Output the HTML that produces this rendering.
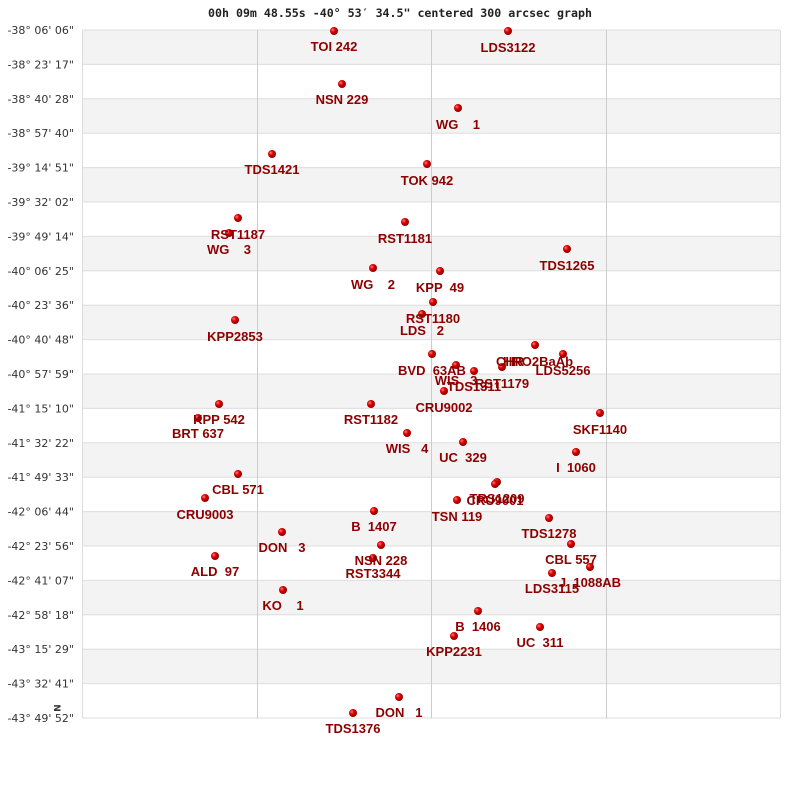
<!DOCTYPE html>
<html><head><meta charset="utf-8"><style>
body{margin:0;background:#fff}
svg text{white-space:pre}
.l{font:bold 13px "Liberation Sans",sans-serif;fill:#8e0000;text-anchor:middle}
.y{font:11px "DejaVu Sans",sans-serif;fill:#333;text-anchor:end}
</style></head><body>
<svg width="800" height="800" xmlns="http://www.w3.org/2000/svg">
<defs><radialGradient id="g" cx="0.35" cy="0.35" r="0.7"><stop offset="0" stop-color="#ff8080"/><stop offset="0.4" stop-color="#e00000"/><stop offset="1" stop-color="#800000"/></radialGradient></defs>
<text x="400" y="17" style="font:bold 11.6px 'DejaVu Sans Mono',monospace;fill:#222" text-anchor="middle">00h 09m 48.55s -40° 53′ 34.5" centered 300 arcsec graph</text>
<g fill="#f3f3f3">
<rect x="82" y="30" width="698" height="34.4"/><rect x="82" y="98.8" width="698" height="34.4"/><rect x="82" y="167.6" width="698" height="34.4"/><rect x="82" y="236.4" width="698" height="34.4"/><rect x="82" y="305.2" width="698" height="34.4"/><rect x="82" y="374" width="698" height="34.4"/><rect x="82" y="442.8" width="698" height="34.4"/><rect x="82" y="511.6" width="698" height="34.4"/><rect x="82" y="580.4" width="698" height="34.4"/><rect x="82" y="649.2" width="698" height="34.4"/>
</g>
<g stroke="#ddd">
<line x1="82" x2="780" y1="30" y2="30"/><line x1="82" x2="780" y1="64.4" y2="64.4"/><line x1="82" x2="780" y1="98.8" y2="98.8"/><line x1="82" x2="780" y1="133.2" y2="133.2"/><line x1="82" x2="780" y1="167.6" y2="167.6"/><line x1="82" x2="780" y1="202" y2="202"/><line x1="82" x2="780" y1="236.4" y2="236.4"/><line x1="82" x2="780" y1="270.8" y2="270.8"/><line x1="82" x2="780" y1="305.2" y2="305.2"/><line x1="82" x2="780" y1="339.6" y2="339.6"/><line x1="82" x2="780" y1="374" y2="374"/><line x1="82" x2="780" y1="408.4" y2="408.4"/><line x1="82" x2="780" y1="442.8" y2="442.8"/><line x1="82" x2="780" y1="477.2" y2="477.2"/><line x1="82" x2="780" y1="511.6" y2="511.6"/><line x1="82" x2="780" y1="546" y2="546"/><line x1="82" x2="780" y1="580.4" y2="580.4"/><line x1="82" x2="780" y1="614.8" y2="614.8"/><line x1="82" x2="780" y1="649.2" y2="649.2"/><line x1="82" x2="780" y1="683.6" y2="683.6"/><line x1="82" x2="780" y1="718" y2="718"/>
<line x1="82.5" x2="82.5" y1="30" y2="718"/><line x1="780.5" x2="780.5" y1="30" y2="718"/>
</g>
<g stroke="#ccc"><line x1="257.5" x2="257.5" y1="30" y2="718"/><line x1="431.5" x2="431.5" y1="30" y2="718"/><line x1="606.5" x2="606.5" y1="30" y2="718"/></g>
<g class="y">
<text class="y" x="74" y="34">-38° 06' 06"</text>
<text class="y" x="74" y="68.4">-38° 23' 17"</text>
<text class="y" x="74" y="102.8">-38° 40' 28"</text>
<text class="y" x="74" y="137.2">-38° 57' 40"</text>
<text class="y" x="74" y="171.6">-39° 14' 51"</text>
<text class="y" x="74" y="206">-39° 32' 02"</text>
<text class="y" x="74" y="240.4">-39° 49' 14"</text>
<text class="y" x="74" y="274.8">-40° 06' 25"</text>
<text class="y" x="74" y="309.2">-40° 23' 36"</text>
<text class="y" x="74" y="343.6">-40° 40' 48"</text>
<text class="y" x="74" y="378">-40° 57' 59"</text>
<text class="y" x="74" y="412.4">-41° 15' 10"</text>
<text class="y" x="74" y="446.8">-41° 32' 22"</text>
<text class="y" x="74" y="481.2">-41° 49' 33"</text>
<text class="y" x="74" y="515.6">-42° 06' 44"</text>
<text class="y" x="74" y="550">-42° 23' 56"</text>
<text class="y" x="74" y="584.4">-42° 41' 07"</text>
<text class="y" x="74" y="618.8">-42° 58' 18"</text>
<text class="y" x="74" y="653.2">-43° 15' 29"</text>
<text class="y" x="74" y="687.6">-43° 32' 41"</text>
<text class="y" x="74" y="722">-43° 49' 52"</text>
</g>
<g fill="url(#g)">
<circle cx="334" cy="31" r="4"/><circle cx="508" cy="31" r="4"/><circle cx="342" cy="84" r="4"/><circle cx="458" cy="108" r="4"/><circle cx="272" cy="154" r="4"/><circle cx="427" cy="164" r="4"/><circle cx="238" cy="218" r="4"/><circle cx="229" cy="233" r="4"/><circle cx="405" cy="222" r="4"/><circle cx="567" cy="249" r="4"/><circle cx="373" cy="268" r="4"/><circle cx="440" cy="271" r="4"/><circle cx="433" cy="302" r="4"/><circle cx="422" cy="314" r="4"/><circle cx="235" cy="320" r="4"/><circle cx="432" cy="354" r="4"/><circle cx="535" cy="345" r="4"/><circle cx="563" cy="354" r="4"/><circle cx="502" cy="367" r="4"/><circle cx="456" cy="365" r="4"/><circle cx="474" cy="371" r="4"/><circle cx="444" cy="391" r="4"/><circle cx="371" cy="404" r="4"/><circle cx="219" cy="404" r="4"/><circle cx="198" cy="418" r="4"/><circle cx="600" cy="413" r="4"/><circle cx="407" cy="433" r="4"/><circle cx="463" cy="442" r="4"/><circle cx="576" cy="452" r="4"/><circle cx="238" cy="474" r="4"/><circle cx="497" cy="482" r="4"/><circle cx="495" cy="484" r="4"/><circle cx="205" cy="498" r="4"/><circle cx="457" cy="500" r="4"/><circle cx="374" cy="511" r="4"/><circle cx="549" cy="518" r="4"/><circle cx="282" cy="532" r="4"/><circle cx="571" cy="544" r="4"/><circle cx="381" cy="545" r="4"/><circle cx="373" cy="558" r="4"/><circle cx="215" cy="556" r="4"/><circle cx="552" cy="573" r="4"/><circle cx="590" cy="567" r="4"/><circle cx="283" cy="590" r="4"/><circle cx="478" cy="611" r="4"/><circle cx="540" cy="627" r="4"/><circle cx="454" cy="636" r="4"/><circle cx="399" cy="697" r="4"/><circle cx="353" cy="713" r="4"/>
</g>
<g>
<text class="l" x="334" y="51">TOI 242</text>
<text class="l" x="508" y="52">LDS3122</text>
<text class="l" x="342" y="104">NSN 229</text>
<text class="l" x="458" y="129">WG    1</text>
<text class="l" x="272" y="174">TDS1421</text>
<text class="l" x="427" y="185">TOK 942</text>
<text class="l" x="238" y="239">RST1187</text>
<text class="l" x="229" y="254">WG    3</text>
<text class="l" x="405" y="243">RST1181</text>
<text class="l" x="567" y="270">TDS1265</text>
<text class="l" x="373" y="289">WG    2</text>
<text class="l" x="440" y="292">KPP  49</text>
<text class="l" x="433" y="323">RST1180</text>
<text class="l" x="422" y="335">LDS   2</text>
<text class="l" x="235" y="341">KPP2853</text>
<text class="l" x="432" y="375">BVD  63AB</text>
<text class="l" x="496" y="366" style="text-anchor:start">CHR</text>
<text class="l" x="503" y="366" style="text-anchor:start">HRO2BaAb</text>
<text class="l" x="563" y="375">LDS5256</text>
<text class="l" x="502" y="388">RST1179</text>
<text class="l" x="456" y="385">WIS   3</text>
<text class="l" x="474" y="391">TDS1311</text>
<text class="l" x="444" y="412">CRU9002</text>
<text class="l" x="371" y="424">RST1182</text>
<text class="l" x="219" y="424">KPP 542</text>
<text class="l" x="198" y="438">BRT 637</text>
<text class="l" x="600" y="434">SKF1140</text>
<text class="l" x="407" y="453">WIS   4</text>
<text class="l" x="463" y="462">UC  329</text>
<text class="l" x="576" y="472">I  1060</text>
<text class="l" x="238" y="494">CBL 571</text>
<text class="l" x="497" y="503">TRS1209</text>
<text class="l" x="495" y="505">CRU9001</text>
<text class="l" x="205" y="519">CRU9003</text>
<text class="l" x="457" y="521">TSN 119</text>
<text class="l" x="374" y="531">B  1407</text>
<text class="l" x="549" y="538">TDS1278</text>
<text class="l" x="282" y="552">DON   3</text>
<text class="l" x="571" y="564">CBL 557</text>
<text class="l" x="381" y="565">NSN 228</text>
<text class="l" x="373" y="578">RST3344</text>
<text class="l" x="215" y="576">ALD  97</text>
<text class="l" x="552" y="593">LDS3115</text>
<text class="l" x="590" y="587">J  1088AB</text>
<text class="l" x="283" y="610">KO    1</text>
<text class="l" x="478" y="631">B  1406</text>
<text class="l" x="540" y="647">UC  311</text>
<text class="l" x="454" y="656">KPP2231</text>
<text class="l" x="399" y="717">DON   1</text>
<text class="l" x="353" y="733">TDS1376</text>
</g>
<text x="57" y="708" transform="rotate(90 57 708)" style="font:bold 9px 'DejaVu Sans',sans-serif;fill:#333" text-anchor="middle" dy="3">N</text>
</svg>
</body></html>
